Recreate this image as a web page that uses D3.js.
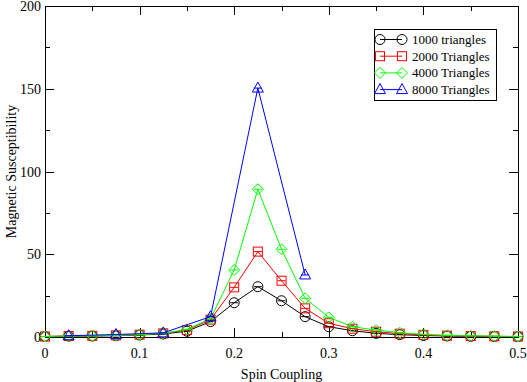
<!DOCTYPE html>
<html lang="en">
<head>
<meta charset="utf-8">
<title>Magnetic Susceptibility</title>
<script src="https://cdn.jsdelivr.net/npm/d3@7"></script>
<style>
    body { margin: 0; background: #fff; }
    svg { display: block; }
    svg text { font-family: "Liberation Serif", "Times New Roman", "DejaVu Serif", serif; }
</style>
</head>
<body>
<div id="chart"></div>
<script>
// data
var coupling = [0, 0.025, 0.05, 0.075, 0.1, 0.125, 0.15, 0.175, 0.2, 0.225, 0.25,
                0.275, 0.3, 0.325, 0.35, 0.375, 0.4, 0.425, 0.45, 0.475, 0.5];
var tri1000 = [0.3, 0.5, 0.6, 0.8, 1.2, 1.8, 3.5, 9.3, 20.7, 30.4, 21.9,
               12.3, 6.2, 3.8, 2.2, 1.4, 0.9, 0.6, 0.4, 0.3, 0.2];
var tri2000 = [0.3, 0.6, 0.7, 1.0, 1.4, 2.2, 4.2, 10.5, 30.0, 51.6, 34.0,
               17.3, 8.3, 5.0, 3.2, 2.0, 1.3, 0.8, 0.6, 0.4, 0.3];
var tri4000 = [0.3, 0.6, 0.7, 1.0, 1.4, 2.2, 4.6, 11.0, 40.5, 89.3, 53.0,
               23.4, 11.9, 6.2, 4.2, 2.6, 1.6, 1.0, 0.7, 0.5, 0.3];
var coupling8000 = [0.025, 0.075, 0.125, 0.175, 0.225, 0.275];
var tri8000 = [0.8, 1.5, 2.5, 12.3, 150.4, 37.5];

var xTicks = [0, 0.1, 0.2, 0.3, 0.4, 0.5];
var yTicks = [0, 50, 100, 150, 200];

var series = [
    {name: "1000 triangles", color: "#000000", shape: "circle", xs: coupling, ys: tri1000},
    {name: "2000 Triangles", color: "#ff0000", shape: "square", xs: coupling, ys: tri2000},
    {name: "4000 Triangles", color: "#00ff00", shape: "diamond", xs: coupling, ys: tri4000},
    {name: "8000 Triangles", color: "#0000ff", shape: "triangle", xs: coupling8000, ys: tri8000}
];

var width = 527, height = 382;
var margin = {left: 45, right: 9, top: 6, bottom: 45};

var svg = d3.select("#chart").append("svg")
    .attr("width", width)
    .attr("height", height)
    .attr("font-family", "'Liberation Serif', 'Times New Roman', serif");

var x = d3.scaleLinear().domain([0, 0.5]).range([margin.left, width - margin.right]);
var y = d3.scaleLinear().domain([0, 200]).range([height - margin.bottom, margin.top]);

var x0 = x.range()[0], x1 = x.range()[1];
var y0 = y.range()[0], y1 = y.range()[1];

// ticks on all four sides, pointing inward
var g = svg.append("g").attr("stroke", "#000").attr("stroke-width", 1);
d3.range(0, 0.5001, 0.05).forEach(function(v) {
    var major = Math.abs(v * 10 - Math.round(v * 10)) < 1e-6;
    var len = major ? 9 : 5;
    var px = Math.round(x(v)) + 0.5;
    g.append("line").attr("x1", px).attr("x2", px).attr("y1", y0).attr("y2", y0 - len);
    g.append("line").attr("x1", px).attr("x2", px).attr("y1", y1).attr("y2", y1 + len);
});
d3.range(0, 201, 25).forEach(function(v) {
    var len = v % 50 === 0 ? 9 : 5;
    var py = Math.round(y(v)) + 0.5;
    g.append("line").attr("y1", py).attr("y2", py).attr("x1", x0).attr("x2", x0 + len);
    g.append("line").attr("y1", py).attr("y2", py).attr("x1", x1).attr("x2", x1 - len);
});
svg.append("rect")
    .attr("x", Math.round(x0) + 0.5).attr("y", Math.round(y1) + 0.5)
    .attr("width", Math.round(x1 - x0)).attr("height", Math.round(y0 - y1))
    .attr("fill", "none").attr("stroke", "#000");

// tick labels
svg.append("g").selectAll("text").data(xTicks).enter().append("text")
    .attr("x", function(d) { return x(d); })
    .attr("y", y0 + 21)
    .attr("text-anchor", "middle")
    .attr("font-size", 14)
    .text(function(d) { return d; });
svg.append("g").selectAll("text").data(yTicks).enter().append("text")
    .attr("x", x0 - 4)
    .attr("y", function(d) { return y(d) + 5; })
    .attr("text-anchor", "end")
    .attr("font-size", 14)
    .text(function(d) { return d; });

svg.append("text")
    .attr("x", (x0 + x1) / 2).attr("y", 379)
    .attr("text-anchor", "middle").attr("font-size", 14)
    .text("Spin Coupling");
svg.append("text")
    .attr("transform", "translate(16," + ((y0 + y1) / 2) + ") rotate(-90)")
    .attr("text-anchor", "middle").attr("font-size", 14)
    .text("Magnetic Susceptibility");

function marker(sel, shape, color) {
    var s;
    if (shape === "circle") {
        s = sel.append("circle").attr("r", 5);
    } else if (shape === "square") {
        s = sel.append("rect").attr("x", -4.5).attr("y", -4.5).attr("width", 9).attr("height", 9);
    } else if (shape === "diamond") {
        s = sel.append("path").attr("d", "M0,-5.5L5.5,0L0,5.5L-5.5,0Z");
    } else {
        s = sel.append("path").attr("d", "M0,-6L5.5,4L-5.5,4Z");
    }
    s.attr("fill", "none").attr("stroke", color).attr("stroke-width", 1);
}

var line = d3.line()
    .x(function(d) { return x(d[0]); })
    .y(function(d) { return y(d[1]); });

series.forEach(function(s) {
    var pts = s.xs.map(function(v, i) { return [v, s.ys[i]]; });
    svg.append("path").datum(pts)
        .attr("d", line)
        .attr("fill", "none")
        .attr("stroke", s.color)
        .attr("stroke-width", 1);
    var m = svg.append("g").selectAll("g").data(pts).enter().append("g")
        .attr("transform", function(d) { return "translate(" + x(d[0]) + "," + y(d[1]) + ")"; });
    marker(m, s.shape, s.color);
    // small error bar caps
    m.append("line").attr("x1", -4).attr("x2", 4).attr("y1", 0).attr("y2", 0)
        .attr("stroke", s.color).attr("stroke-width", 1);
});

// legend
var lg = svg.append("g");
lg.append("rect")
    .attr("x", 374.5).attr("y", 29.5).attr("width", 122).attr("height", 71)
    .attr("fill", "#fff").attr("stroke", "#000");
series.forEach(function(s, i) {
    var ry = 39.5 + i * 16.7;
    lg.append("line").attr("x1", 380).attr("x2", 402).attr("y1", ry).attr("y2", ry)
        .attr("stroke", s.color);
    [380, 402].forEach(function(mx) {
        var mg = lg.append("g").attr("transform", "translate(" + mx + "," + ry + ")");
        marker(mg, s.shape, s.color);
    });
    lg.append("text").attr("x", 412).attr("y", ry + 4.5)
        .attr("font-size", 13).text(s.name);
});
</script>
</body>
</html>
